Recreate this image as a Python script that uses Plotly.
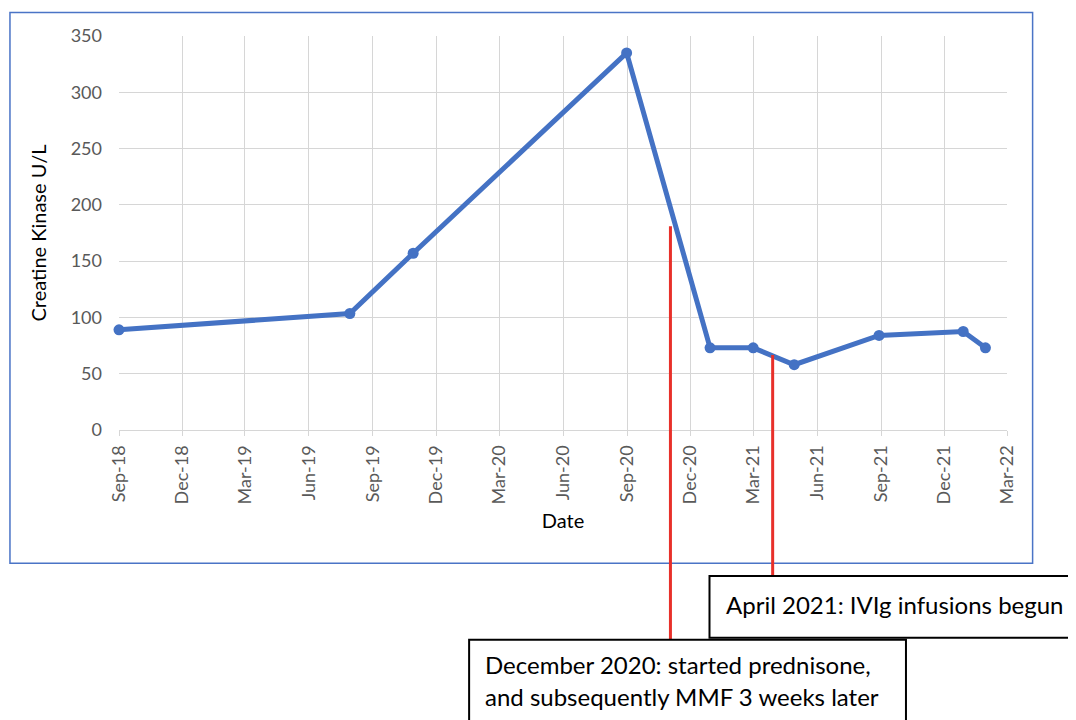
import plotly.graph_objects as go

# ---- data ----
dates = ['2018-09-01', '2019-07-30', '2019-10-29', '2020-08-31', '2020-12-29',
         '2021-03-01', '2021-04-29', '2021-08-29', '2021-12-28', '2022-01-29']
ck_values = [89, 103.5, 157, 335, 73, 73, 58, 84, 87.5, 73]

event_dates = ['2020-11-02', '2021-03-29']
event_tops = [181, 66.6]          # U/L level where each red line starts
y_max = 350

font_family = "Lato, 'Open Sans', sans-serif"

fig = go.Figure()
fig.add_trace(go.Scatter(
    x=dates, y=ck_values, mode='lines+markers',
    line=dict(color='#4472C4', width=5),
    marker=dict(color='#4472C4', size=11),
    cliponaxis=False, showlegend=False,
))

# page px -> paper helpers (plot area: left 119, width 887.7, bottom 430, height 394.3)
def px(xp):
    return (xp - 119) / 887.7

def py(yp):
    return (430 - yp) / 394.3

shapes = []
# outer chart border
shapes.append(dict(type='rect', xref='paper', yref='paper',
                   x0=px(10), x1=px(1032.3), y0=py(563.3), y1=py(12.3),
                   line=dict(color='#4A74C6', width=1.5), layer='below'))
# red event lines
bottoms = [py(640), py(576)]
for d, top, b in zip(event_dates, event_tops, bottoms):
    shapes.append(dict(type='line', xref='x', yref='paper',
                       x0=d, x1=d, y0=top / y_max, y1=b,
                       line=dict(color='#E8302A', width=3), layer='above'))
# annotation boxes
shapes.append(dict(type='rect', xref='paper', yref='paper',
                   x0=px(709.3), x1=px(1090), y0=py(638), y1=py(576),
                   line=dict(color='black', width=2), fillcolor='white', layer='above'))
shapes.append(dict(type='rect', xref='paper', yref='paper',
                   x0=px(469), x1=px(905.7), y0=py(740), y1=py(640),
                   line=dict(color='black', width=2), fillcolor='white', layer='above'))

annotations = [
    dict(text='April 2021: IVIg infusions begun', xref='paper', yref='paper',
         x=px(724), y=py(605), xanchor='left', yanchor='middle', showarrow=False,
         font=dict(family=font_family, size=24, color='black')),
    dict(text='December 2020: started prednisone,', xref='paper', yref='paper',
         x=px(483), y=py(665), xanchor='left', yanchor='middle', showarrow=False,
         font=dict(family=font_family, size=24, color='black')),
    dict(text='and subsequently MMF 3 weeks later', xref='paper', yref='paper',
         x=px(483), y=py(697), xanchor='left', yanchor='middle', showarrow=False,
         font=dict(family=font_family, size=24, color='black')),
]

# the page body has an 8px margin, so the figure is 8px smaller and shifted
fig.update_layout(
    width=1068, height=712,
    margin=dict(l=111, r=69.3, t=27.7, b=290, autoexpand=False),
    paper_bgcolor='white', plot_bgcolor='white',
    font=dict(family=font_family),
    shapes=shapes, annotations=annotations,
    xaxis=dict(
        type='date', range=['2018-09-01', '2022-03-01'],
        tick0='2018-09-01', dtick='M3', tickformat='%b-%y', tickangle=-90,
        showgrid=True, gridcolor='#D6D6D6', gridwidth=1.3,
        showline=True, linecolor='#D6D6D6', linewidth=1.3,
        ticks='outside', ticklen=5, tickcolor='#D6D6D6',
        ticklabelstandoff=2,
        tickfont=dict(family=font_family, size=18, color='#595959'),
        title=dict(text='Date', standoff=10,
                   font=dict(family=font_family, size=20, color='black')),
        zeroline=False, automargin=False,
    ),
    yaxis=dict(
        range=[0, y_max], dtick=50,
        showgrid=True, gridcolor='#D6D6D6', gridwidth=1.3,
        showline=False, zeroline=False, ticks='',
        ticklabelstandoff=16,
        tickfont=dict(family=font_family, size=18, color='#595959'),
        title=dict(text='Creatine Kinase U/L', standoff=18,
                   font=dict(family=font_family, size=20, color='black')),
        automargin=False,
    ),
)

fig.write_html('out.html')
